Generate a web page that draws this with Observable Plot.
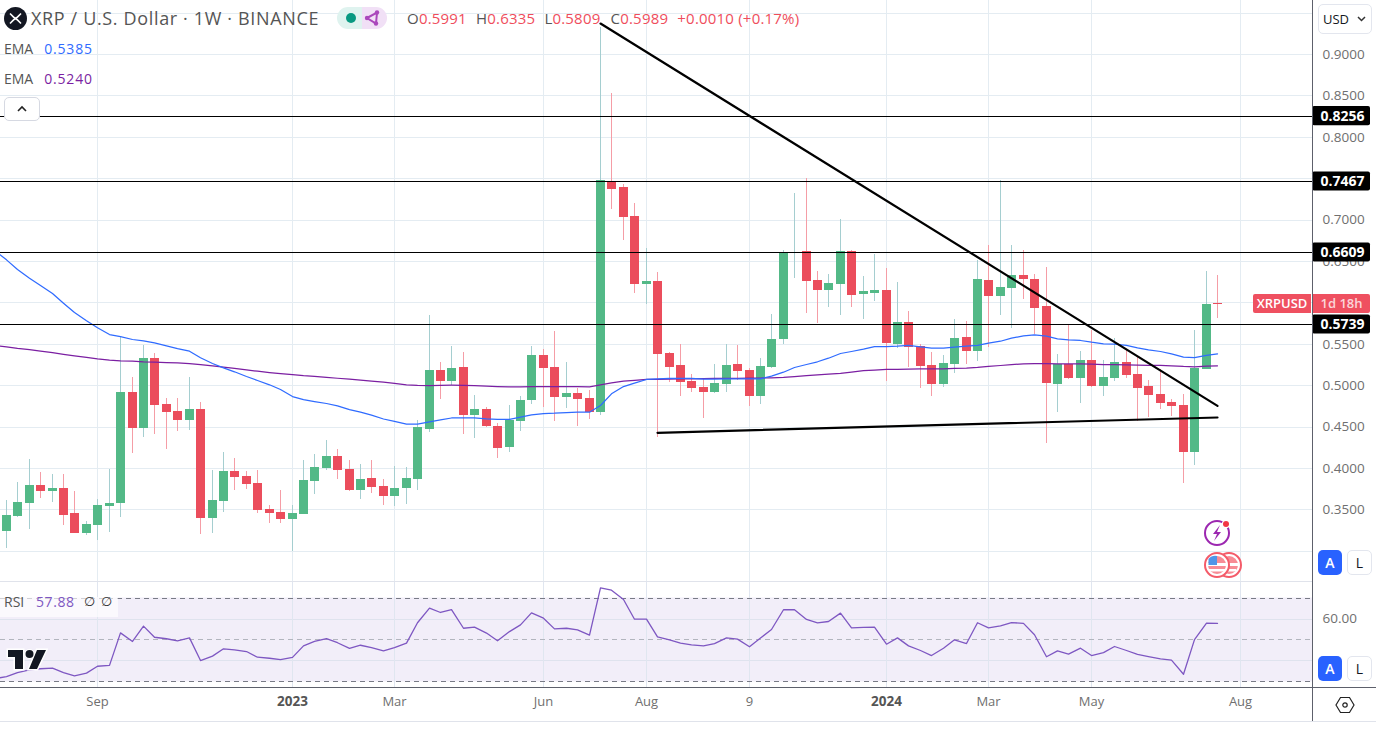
<!DOCTYPE html>
<html>
<head>
<meta charset="utf-8">
<script src="https://cdn.jsdelivr.net/npm/d3@7"></script>
<script src="https://cdn.jsdelivr.net/npm/@observablehq/plot@0.6"></script>
<style>
html,body{margin:0;padding:0;background:#fff;overflow:hidden}
#root{position:relative;width:1376px;height:736px;font-family:"Open Sans",sans-serif;color:#555}
#root svg{display:block}
.abs{position:absolute;white-space:nowrap}
.btn{position:absolute;box-sizing:border-box;border-radius:5px;display:flex;align-items:center;justify-content:center;font-size:14px}
</style>
</head>
<body>
<div id="root"></div>
<script>
const open=[.3239,.3421,.3577,.3795,.3722,.3758,.3456,.3215,.3312,.3542,.3577,.4918,.4483,.5328,.4773,.4688,.4580,.4712,.3396,.3602,.3964,.3903,.3819,.3505,.3469,.3384,.3444,.3843,.4000,.4145,.3988,.3734,.3879,.3783,.3662,.3758,.3867,.4471,.5183,.5051,.5220,.4640,.4712,.4507,.4253,.4568,.4821,.5365,.5220,.4857,.4905,.4845,.4676,.7466,.7394,.7043,.6222,.6258,.5389,.5244,.5051,.4978,.4918,.5015,.5256,.5183,.4869,.5220,.5558,.6597,.6621,.6270,.6150,.6222,.6621,.6101,.6113,.6150,.5498,.5763,.5473,.5244,.5015,.5256,.5582,.5413,.6270,.6077,.6174,.6331,.6283,.5956,.5015,.5256,.5087,.5304,.4990,.5087,.5280,.5135,.4990,.4894,.4797,.4761,.4193,.5195,.5991];
const high=[.3614,.3831,.4109,.3952,.3928,.3928,.3722,.3360,.3626,.3988,.5582,.5098,.5486,.5389,.4845,.4845,.5098,.4797,.3976,.4193,.4121,.3964,.3976,.3553,.3734,.3553,.4097,.4169,.4338,.4229,.4097,.4048,.4097,.3867,.4024,.4012,.4580,.5848,.5280,.5473,.5401,.4881,.4736,.4544,.4761,.4869,.5473,.5437,.5655,.5280,.4966,.4942,.9326,.8529,.7430,.7200,.6657,.6367,.5401,.5498,.5135,.5087,.5256,.5498,.5486,.5208,.5328,.5860,.6633,.7321,.7502,.6379,.6343,.7007,.6633,.6319,.6584,.6415,.6246,.5896,.5498,.5401,.5365,.5799,.5775,.6512,.6693,.7478,.6693,.6633,.6343,.6428,.5377,.5727,.5413,.5667,.5304,.5570,.5425,.5341,.5063,.5195,.4833,.4894,.5667,.6379,.6335];
const low=[.3034,.3408,.3263,.3638,.3590,.3312,.3209,.3191,.3131,.3227,.3408,.4181,.4374,.4410,.4229,.4447,.4459,.3203,.3215,.3469,.3734,.3746,.3456,.3336,.3336,.2998,.3444,.3686,.3976,.3867,.3722,.3626,.3698,.3553,.3541,.3565,.3734,.4435,.4833,.5002,.4410,.4362,.4495,.4121,.4193,.4447,.4773,.4736,.4568,.4724,.4507,.4592,.4640,.7128,.6754,.6113,.5981,.4374,.5039,.4869,.4918,.4604,.4905,.4918,.5063,.4749,.4773,.5208,.5498,.6295,.5872,.5751,.5944,.5848,.5944,.5799,.6017,.5051,.5449,.5220,.4966,.4869,.4978,.5147,.5256,.5292,.5461,.5848,.5691,.6041,.5618,.4302,.4676,.5080,.4785,.4978,.4869,.5051,.5087,.4568,.4616,.4712,.4628,.3819,.4036,.5195,.5809];
const close=[.3433,.3590,.3795,.3722,.3758,.3432,.3215,.3324,.3553,.3577,.4917,.4483,.5328,.4761,.4676,.4580,.4712,.3396,.3614,.3964,.3891,.3807,.3493,.3456,.3384,.3456,.3855,.4012,.4145,.3976,.3734,.3867,.3770,.3662,.3758,.3879,.4495,.5183,.5051,.5208,.4640,.4712,.4507,.4241,.4580,.4821,.5365,.5208,.4857,.4905,.4833,.4676,.7478,.7369,.7031,.6222,.6258,.5377,.5220,.5039,.4966,.4918,.5027,.5244,.5171,.4869,.5232,.5558,.6609,.6609,.6258,.6150,.6234,.6621,.6089,.6138,.6150,.5510,.5763,.5461,.5232,.5015,.5268,.5570,.5413,.6282,.6077,.6186,.6331,.6283,.5932,.5027,.5256,.5087,.5304,.4990,.5098,.5280,.5123,.4966,.4881,.4785,.4749,.4193,.5208,.5981,.5989];
// first entry of each overlay series is the bar just left of the visible window
const emaFast=[.6633,.6520,.6403,.6298,.6210,.6113,.5996,.5884,.5784,.5699,.5618,.5594,.5558,.5542,.5518,.5482,.5449,.5417,.5337,.5268,.5216,.5168,.5111,.5063,.5011,.4954,.4869,.4833,.4809,.4785,.4757,.4712,.4680,.4644,.4598,.4568,.4535,.4535,.4564,.4588,.4610,.4612,.4612,.4600,.4592,.4592,.4620,.4649,.4664,.4668,.4676,.4680,.4680,.4761,.4902,.4990,.5030,.5075,.5083,.5090,.5090,.5087,.5079,.5079,.5083,.5083,.5083,.5083,.5115,.5163,.5220,.5256,.5289,.5332,.5389,.5413,.5441,.5473,.5473,.5477,.5486,.5470,.5453,.5453,.5465,.5477,.5486,.5513,.5537,.5574,.5603,.5615,.5598,.5566,.5554,.5546,.5525,.5506,.5501,.5486,.5458,.5434,.5413,.5385,.5344,.5340,.5365,.5385];
const emaSlow=[.5486,.5469,.5450,.5435,.5417,.5399,.5379,.5361,.5343,.5325,.5310,.5301,.5296,.5289,.5285,.5280,.5275,.5268,.5254,.5238,.5223,.5208,.5191,.5175,.5159,.5147,.5135,.5123,.5114,.5101,.5090,.5079,.5068,.5056,.5042,.5027,.5011,.5005,.5002,.5004,.5006,.5005,.5000,.4994,.4990,.4987,.4987,.4990,.4988,.4988,.4988,.4988,.4987,.5011,.5035,.5054,.5063,.5075,.5077,.5080,.5082,.5083,.5085,.5087,.5087,.5089,.5092,.5093,.5095,.5101,.5111,.5121,.5130,.5139,.5150,.5165,.5181,.5187,.5196,.5196,.5199,.5204,.5204,.5204,.5208,.5211,.5220,.5232,.5244,.5256,.5264,.5268,.5268,.5264,.5264,.5264,.5260,.5256,.5256,.5252,.5248,.5244,.5244,.5240,.5232,.5228,.5235,.5240];
const rsi=[31.5,32.6,34.5,35.8,36.3,36.6,34.5,32.9,34.2,37.5,37.9,53.4,49.3,56.6,51.3,50.6,49.6,51,40.2,42.3,45.8,45.3,44.5,41.8,41.3,40.7,41.7,47.2,49.3,50.7,48.7,46,47.5,46.4,44.8,46.4,48.5,58.2,65.2,63.1,64.5,55.6,56.1,53.3,49.6,54,57.2,62.9,60.4,55.3,55.6,54.8,52.3,74.8,73.7,69.3,59.9,59.9,51.5,50.1,48.5,47.7,47.2,48.3,51,50.4,46.8,50.9,55,64.4,64.4,59.8,58.2,58.8,62.8,55.8,56,56.1,48,51,47.2,45,42.6,46.1,50.1,48.3,58.2,55.8,56.7,58.3,57.9,52.5,42,44.8,43.3,46.1,42.6,44,46.9,45,43.1,42.1,41,40.4,33.7,50.2,58,57.88];
const levels=[0.8256,0.7467,0.6609,0.5739];
const priceGrid=[0.30,0.35,0.40,0.45,0.50,0.55,0.60,0.65,0.70,0.75,0.80,0.85,0.90,0.95];
const priceLabels=[0.35,0.40,0.45,0.50,0.55,0.65,0.70,0.80,0.85,0.90];
const timeTickBars=[8,25,34,47,56,65,77,86,95,108];
const timeTickLabels=["Sep","2023","Mar","Jun","Aug","9","2024","Mar","May","Aug"];
const yearTicks=["2023","2024"];
const rsiGrid=[40,60];
const rsiBands=[70,50,30];
const fallingLine=[{bar:52,price:.9374},{bar:106,price:.4757}];
const risingLine=[{bar:57,price:.4431},{bar:106,price:.4616}];

const bars=open.map((o,i)=>({i,o,h:high[i],l:low[i],c:close[i],up:close[i]>=o}));
const GREEN="#53b987",RED="#eb4d5c",GREENW="#a5ced0",REDW="#f59da6",GRID="#e4ecf2";
const xDomain=[-0.5164,114.32];
const FONT='"Open Sans",sans-serif';
const crisp={shapeRendering:"crispEdges"};
const seq=a=>a.map((v,k)=>({bar:k-1,v}));

const main=Plot.plot({
  width:1376,height:581,marginTop:0,marginBottom:0,marginLeft:0,marginRight:64,
  style:{background:"transparent",fontFamily:FONT,fontSize:"13px",overflow:"visible"},
  x:{domain:xDomain,round:true,axis:null},
  y:{domain:[0.96522,0.26353],range:[0,581],axis:null},
  marks:[
    Plot.ruleY(priceGrid,{stroke:GRID,...crisp}),
    Plot.ruleX(timeTickBars,{stroke:GRID,...crisp}),
    Plot.ruleX(bars,{x:"i",y1:"h",y2:"l",stroke:d=>d.up?GREENW:REDW,strokeWidth:1,...crisp}),
    Plot.ruleX(bars,{x:"i",y1:"o",y2:"c",stroke:d=>d.up?GREEN:RED,strokeWidth:9,...crisp}),
    Plot.ruleY(bars.filter(d=>Math.abs(d.o-d.c)<0.0015),{x1:d=>d.i-0.36,x2:d=>d.i+0.42,y:"c",stroke:d=>d.up?GREEN:RED,...crisp}),
    Plot.line(seq(emaSlow),{x:"bar",y:"v",stroke:"#7b1fa2",strokeWidth:1.25,clip:"frame"}),
    Plot.line(seq(emaFast),{x:"bar",y:"v",stroke:"#2f6bff",strokeWidth:1.25,clip:"frame"}),
    Plot.ruleY(levels,{x1:xDomain[0],x2:xDomain[1],stroke:"#000",strokeWidth:1,...crisp}),
    Plot.line(fallingLine,{x:"bar",y:"price",stroke:"#000",strokeWidth:2.2}),
    Plot.line(risingLine,{x:"bar",y:"price",stroke:"#000",strokeWidth:2.2}),
    Plot.axisY(priceLabels,{anchor:"right",tickSize:0,tickPadding:10,tickFormat:d3.format(".4f"),textAnchor:"start",fill:"#6f6f6f",fontSize:13.5,label:null}),
    Plot.rect(levels,{x1:xDomain[1],x2:119.4,y1:d=>d+0.0115,y2:d=>d-0.0115,fill:"#000",rx:2}),
    Plot.text(levels,{x:116.95,y:d=>d,text:d=>d.toFixed(4),fill:"#fff",fontWeight:"bold",fontSize:14})
  ]
});

const pane=Plot.plot({
  width:1376,height:155,marginTop:0,marginBottom:48,marginLeft:0,marginRight:64,
  style:{background:"transparent",fontFamily:FONT,fontSize:"13px",overflow:"visible"},
  x:{domain:xDomain,round:true,axis:null},
  y:{domain:[77.86,26.9],range:[0,107],axis:null},
  marks:[
    Plot.rectY([0],{x1:xDomain[0],x2:xDomain[1],y1:70,y2:30,fill:"#7e57c2",fillOpacity:0.1}),
    Plot.ruleY(rsiGrid,{stroke:"#dfe3ee",...crisp}),
    Plot.ruleX(timeTickBars,{stroke:"#e0e6f0",...crisp}),
    Plot.ruleY(rsiBands,{stroke:d=>d===50?"#b2b5be":"#787b86",strokeDasharray:"5 4",...crisp}),
    Plot.line(seq(rsi),{x:"bar",y:"v",stroke:"#7e57c2",strokeWidth:1.3,clip:"frame"}),
    Plot.axisY([60],{anchor:"right",tickSize:0,tickPadding:10,tickFormat:d3.format(".2f"),textAnchor:"start",fill:"#6f6f6f",fontSize:13.5,label:null}),
    Plot.axisX(timeTickBars.filter((b,k)=>!yearTicks.includes(timeTickLabels[k])),{anchor:"bottom",tickSize:0,tickPadding:8,tickFormat:b=>timeTickLabels[timeTickBars.indexOf(b)],fill:"#6f6f6f",fontSize:13,label:null}),
    Plot.axisX(timeTickBars.filter((b,k)=>yearTicks.includes(timeTickLabels[k])),{anchor:"bottom",tickSize:0,tickPadding:8,tickFormat:b=>timeTickLabels[timeTickBars.indexOf(b)],fill:"#555",fontWeight:"bold",fontSize:13.5,label:null})
  ]
});

const root=document.getElementById("root");
root.append(main,pane);

const html=`
<div class="abs" style="left:1312px;top:0;width:1px;height:721px;background:#5d606b"></div>
<div class="abs" style="left:0;top:581px;width:1312px;height:1px;background:#e0e3eb"></div>
<div class="abs" style="left:0;top:687px;width:1376px;height:1px;background:#5d606b"></div>
<div class="abs" style="left:0;top:721px;width:1376px;height:1px;background:#e0e3eb"></div>

<div class="abs" style="left:31px;top:6px;font-size:18px;line-height:24px;color:#555;letter-spacing:.65px">XRP / U.S. Dollar · 1W · BINANCE</div>
<svg class="abs" style="left:4px;top:7px" width="23" height="23" viewBox="0 0 23 23"><circle cx="11.5" cy="11.5" r="11.5" fill="#131722"/><path d="M6 6.5l3.6 3.6a2.7 2.7 0 0 0 3.8 0L17 6.5M6 16.5l3.6-3.6a2.7 2.7 0 0 1 3.8 0l3.6 3.6" fill="none" stroke="#fff" stroke-width="1.6"/></svg>
<svg class="abs" style="left:337px;top:7px" width="50" height="22" viewBox="0 0 50 22"><path d="M11 0H25V22H11A11 11 0 0 1 11 0Z" fill="#dff3ef"/><path d="M25 0H39A11 11 0 0 1 39 22H25Z" fill="#f1e0f6"/><circle cx="14" cy="11" r="5" fill="#089981"/><path d="M30 11L40 5.5L39 16.5Z" fill="none" stroke="#ab47bc" stroke-width="2"/><circle cx="30" cy="11" r="2.2" fill="#ab47bc"/><circle cx="40" cy="5.5" r="2.2" fill="#ab47bc"/><circle cx="39" cy="16.5" r="2.2" fill="#ab47bc"/></svg>
<div class="abs" style="left:407px;top:8px;font-size:15px;line-height:20px;color:#ef4d5c;letter-spacing:.2px"><span style="color:#555">O</span>0.5991 <span style="color:#555;margin-left:5px">H</span>0.6335 <span style="color:#555;margin-left:5px">L</span>0.5809 <span style="color:#555;margin-left:6px">C</span>0.5989 <span style="margin-left:5px">+0.0010 (+0.17%)</span></div>
<div class="abs" style="left:4px;top:39px;font-size:14px;line-height:20px;color:#555">EMA<span style="color:#2f6bff;margin-left:11px;letter-spacing:.8px">0.5385</span></div>
<div class="abs" style="left:4px;top:69px;font-size:14px;line-height:20px;color:#555">EMA<span style="color:#7b1fa2;margin-left:11px;letter-spacing:.8px">0.5240</span></div>
<div class="btn" style="left:4px;top:97px;width:36px;height:24px;background:#fff;border:1px solid #d6d9e2"><svg width="12" height="8" viewBox="0 0 12 8"><path d="M2 6l4-4 4 4" fill="none" stroke="#222" stroke-width="1.6"/></svg></div>
<div class="btn" style="left:1318px;top:4px;width:54px;height:30px;background:#fff;border:1px solid #e3e6ee;color:#131722;font-size:13px;justify-content:flex-start;padding-left:4px">USD<svg style="margin-left:8px" width="9" height="6" viewBox="0 0 9 6"><path d="M1 1l3.5 3.5L8 1" fill="none" stroke="#333" stroke-width="1.5"/></svg></div>
<div class="abs" style="left:1253px;top:294px;width:58px;height:19px;background:#ef5060;color:#fff;border-radius:2px 0 0 2px;font-size:13px;font-weight:600;line-height:19px;text-align:center">XRPUSD</div>
<div class="abs" style="left:1313px;top:294px;width:57px;height:19px;background:#ef5060;color:#fbd5d9;border-radius:0 2px 2px 0;font-size:13px;font-weight:600;line-height:19px;text-align:center">1d 18h</div>

<svg class="abs" style="left:1202px;top:517px" width="42" height="62" viewBox="0 0 42 62">
<circle cx="15" cy="16" r="12" fill="#fff" stroke="#9c27b0" stroke-width="2"/><path d="M18 8L11 17h4l-3 7 7-9h-4z" fill="#9c27b0"/><circle cx="24" cy="7" r="4.2" fill="#fff"/><circle cx="24" cy="7" r="3" fill="#f23645"/>
<g><circle cx="27" cy="48" r="12" fill="#fff" stroke="#f45b69" stroke-width="2"/><circle cx="27" cy="48" r="9" fill="#f78c95"/><rect x="18" y="46" width="18" height="3" fill="#fff"/><rect x="18" y="52" width="16" height="2.5" fill="#fff"/></g>
<g><circle cx="15" cy="48" r="12" fill="#fff" stroke="#f45b69" stroke-width="2"/><circle cx="15" cy="48" r="9" fill="#f78c95"/><rect x="6" y="46" width="18" height="3" fill="#fff"/><rect x="7" y="52" width="16" height="2.5" fill="#fff"/><path d="M6.5 48V42A9 9 0 0 1 15 39V48Z" fill="#4f96e8"/></g>
</svg>

<div class="btn" style="left:1318px;top:550px;width:24px;height:25px;background:#2962ff;color:#fff;font-weight:600">A</div>
<div class="btn" style="left:1347px;top:550px;width:25px;height:25px;background:#fff;border:1px solid #e3e6ee;color:#131722">L</div>
<div class="btn" style="left:1318px;top:656px;width:24px;height:25px;background:#2962ff;color:#fff;font-weight:600">A</div>
<div class="btn" style="left:1347px;top:656px;width:25px;height:25px;background:#fff;border:1px solid #e3e6ee;color:#131722">L</div>

<div class="abs" style="left:0;top:597px;width:118px;height:20px;background:rgba(255,255,255,.65)"></div>
<div class="abs" style="left:4px;top:592px;font-size:14px;line-height:20px;color:#555">RSI</div>
<div class="abs" style="left:36px;top:592px;font-size:14px;line-height:20px;color:#7e57c2;letter-spacing:.6px">57.88</div>
<div class="abs" style="left:84px;top:592px;font-size:13px;line-height:20px;color:#333;font-family:'DejaVu Sans'">∅</div>
<div class="abs" style="left:101px;top:592px;font-size:13px;line-height:20px;color:#333;font-family:'DejaVu Sans'">∅</div>

<svg class="abs" style="left:6px;top:648px" width="42" height="24" viewBox="0 0 42 24"><path d="M2 2H17V21H9V9H2Z M31 2H40L31 21H23Z" fill="#131722" stroke="#fff" stroke-width="3" paint-order="stroke"/><circle cx="23.5" cy="6" r="4" fill="#131722" stroke="#fff" stroke-width="2" paint-order="stroke"/></svg>
<svg class="abs" style="left:1335px;top:695px" width="20" height="20" viewBox="0 0 20 20"><path d="M5.5 2.5H14.5L19 10L14.5 17.5H5.5L1 10Z" fill="none" stroke="#222" stroke-width="1.2"/><circle cx="10" cy="10" r="2.2" fill="none" stroke="#222" stroke-width="1.2"/></svg>
`;
root.insertAdjacentHTML("beforeend",html);
</script>
</body>
</html>
